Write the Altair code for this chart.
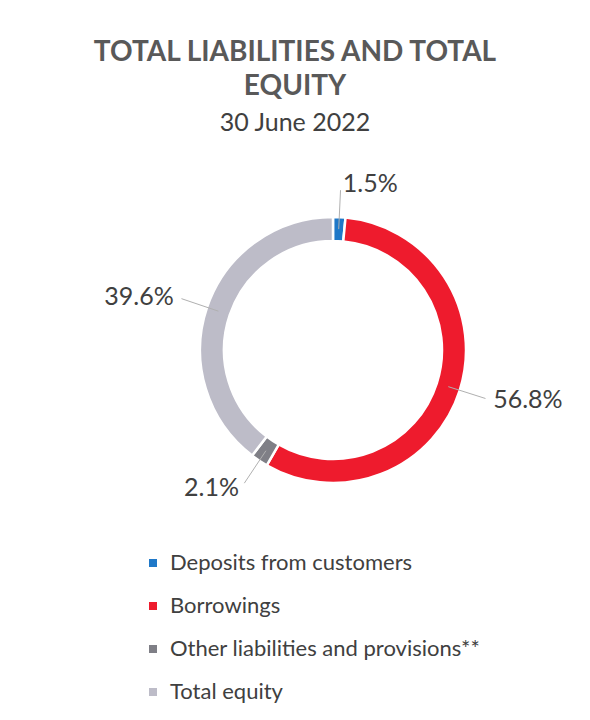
import altair as alt
import pandas as pd

categories = ["Deposits from customers", "Borrowings",
              "Other liabilities and provisions**", "Total equity"]
shares = [1.5, 56.8, 2.1, 39.6]
colors = ["#1F78C8", "#EE1B2D", "#7F7F86", "#BDBCC8"]

df = pd.DataFrame({"category": categories, "share": shares,
                   "idx": list(range(len(categories)))})

FONT = "Lato"
W, H = 574, 560
CX, CY = 325, 202
R_OUT, R_IN = 133, 109
R_L0, R_L1, R_LAB = 121, 160, 166

base = (
    alt.Chart(df)
    .transform_joinaggregate(total="sum(share)")
    .transform_window(cum="sum(share)", sort=[alt.SortField("idx")], frame=[None, 0])
    .transform_calculate(
        mid="2*PI*(datum.cum - datum.share/2)/datum.total",
        label="format(datum.share, '.1f') + '%'",
    )
    .transform_calculate(
        x1=f"{CX} + {R_L0}*sin(datum.mid)",
        y1=f"{CY} - {R_L0}*cos(datum.mid)",
        x2=f"{CX} + {R_L1}*sin(datum.mid)",
        y2=f"{CY} - {R_L1}*cos(datum.mid)",
        xt=f"{CX} + {R_LAB}*sin(datum.mid)",
        yt=f"{CY} - {R_LAB}*cos(datum.mid)",
        side="sin(datum.mid) >= 0 ? 'r' : 'l'",
    )
)

xs = alt.Scale(domain=[0, W], range=[0, W])
ys = alt.Scale(domain=[0, H], range=[0, H])

arc = alt.Chart(df).mark_arc(
    outerRadius=R_OUT, innerRadius=R_IN, stroke="white", strokeWidth=2.5
).encode(
    theta=alt.Theta("share:Q", stack=True),
    order=alt.Order("idx:Q"),
    color=alt.Color("category:N", sort=categories,
                    scale=alt.Scale(domain=categories, range=colors),
                    legend=alt.Legend(title=None)),
    x=alt.value(CX),
    y=alt.value(CY),
)

rule = base.mark_rule(color="#B0B0B0", strokeWidth=1).encode(
    x=alt.X("x1:Q", scale=xs, axis=None),
    y=alt.Y("y1:Q", scale=ys, axis=None),
    x2="x2:Q",
    y2="y2:Q",
)

txt_r = base.transform_filter("datum.side == 'r'").mark_text(
    align="left", baseline="middle", font=FONT, fontSize=25, color="#404040", dx=2
).encode(x=alt.X("xt:Q", scale=xs, axis=None), y=alt.Y("yt:Q", scale=ys, axis=None),
         text="label:N")

txt_l = base.transform_filter("datum.side == 'l'").mark_text(
    align="right", baseline="middle", font=FONT, fontSize=25, color="#404040", dx=-2
).encode(x=alt.X("xt:Q", scale=xs, axis=None), y=alt.Y("yt:Q", scale=ys, axis=None),
         text="label:N")

chart = (
    alt.layer(arc, rule, txt_r, txt_l)
    .properties(
        width=W, height=H,
        autosize=alt.AutoSizeParams(type="none"),
        padding={"top": 140, "left": 0, "right": 0, "bottom": 0},
        title=alt.TitleParams(
            text=["TOTAL LIABILITIES AND TOTAL", "EQUITY"],
            subtitle="30 June 2022",
            anchor="middle", frame="group",
            font=FONT, fontSize=28, fontWeight="bold", color="#595959",
            lineHeight=34,
            subtitleFont=FONT, subtitleFontSize=25, subtitleColor="#404040",
            subtitlePadding=10, offset=12,
        ),
    )
    .configure_view(stroke=None)
    .configure_legend(
        orient="none", legendX=134, legendY=404, direction="vertical",
        symbolType="square", symbolSize=64, symbolStrokeWidth=0,
        labelFont=FONT, labelFontSize=22, labelColor="#404040",
        rowPadding=21, labelOffset=6, labelLimit=420,
    )
)

chart.save("out.html", embed_options={"renderer": "svg", "actions": False})
